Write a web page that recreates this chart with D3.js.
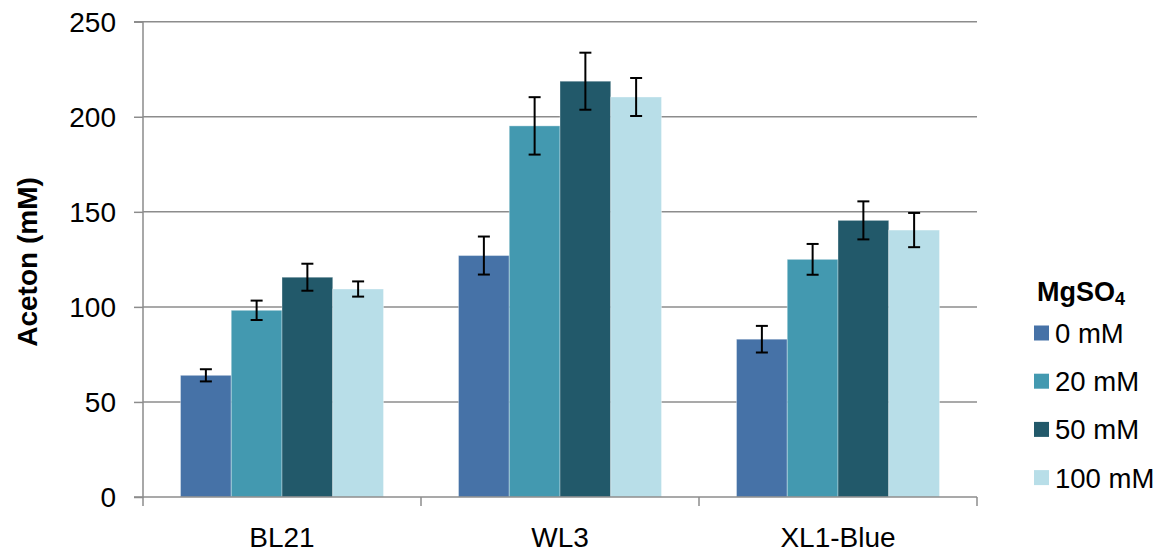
<!DOCTYPE html>
<html><head><meta charset="utf-8">
<script src="https://cdn.jsdelivr.net/npm/d3@7"></script>
<style>body{margin:0;background:#fff}svg{display:block;font-family:"Liberation Sans",Arial,sans-serif}</style>
</head><body><svg id="c" width="1168" height="553"></svg>
<script>
const categories = ["BL21", "WL3", "XL1-Blue"];
const seriesNames = ["0 mM", "20 mM", "50 mM", "100 mM"];
const s0 = [64, 127, 83];
const s20 = [98.2, 195.2, 125];
const s50 = [115.6, 218.7, 145.5];
const s100 = [109.4, 210.4, 140.4];
const e0 = [3.2, 10, 7];
const e20 = [5.1, 15.1, 8.1];
const e50 = [7.1, 15, 10];
const e100 = [4, 10, 9];
const yTicks = [0, 50, 100, 150, 200, 250];
const colors = ["#4672a7", "#4399b0", "#22596a", "#b8dee8"];

const values = [s0, s20, s50, s100];
const errs = [e0, e20, e50, e100];

const svg = d3.select("#c");
const L = 143, R = 977, T = 21.7, B = 497;
const x = d3.scaleBand().domain(categories).range([L, R]).paddingInner(0).paddingOuter(0);
const y = d3.scaleLinear().domain([0, 250]).range([B, T]);
const groupW = 203;
const inner = d3.scaleBand().domain(seriesNames).range([0, x.bandwidth()]).paddingInner(0)
  .paddingOuter((x.bandwidth() - groupW) / 2 / (groupW / 4));

// gridlines
svg.append("g").selectAll("line").data(yTicks.filter(d => d > 0)).join("line")
  .attr("x1", L).attr("x2", R).attr("y1", d => y(d)).attr("y2", d => y(d))
  .attr("stroke", "#8c8c8c").attr("stroke-width", 1.5);

// y axis
const yAxis = d3.axisLeft(y).tickValues(yTicks).tickSize(9).tickPadding(18);
const gy = svg.append("g").attr("transform", `translate(${L},0)`).call(yAxis);
gy.attr("font-size", null).attr("font-family", null);
gy.select(".domain").attr("stroke", "#8c8c8c").attr("stroke-width", 1.5).attr("d", `M-9,${T}H0V${B}H-9`);
gy.selectAll(".tick line").attr("stroke", "#8c8c8c").attr("stroke-width", 1.5);
gy.selectAll(".tick text").attr("font-size", 28).attr("fill", "#000").attr("dy", "0.34em");

// bars
categories.forEach((c, ci) => {
  const g = svg.append("g").attr("transform", `translate(${x(c)},0)`);
  seriesNames.forEach((s, si) => {
    const v = values[si][ci], e = errs[si][ci];
    g.append("rect").attr("x", inner(s)).attr("width", inner.bandwidth())
      .attr("y", y(v)).attr("height", y(0) - y(v))
      .attr("fill", colors[si]).attr("stroke", "rgba(255,255,255,0.35)").attr("stroke-width", 1);
    const cx = inner(s) + inner.bandwidth() / 2;
    g.append("line").attr("x1", cx).attr("x2", cx).attr("y1", y(v + e)).attr("y2", y(v - e)).attr("stroke", "#000").attr("stroke-width", 2);
    [v + e, v - e].forEach(t => g.append("line").attr("x1", cx - 6).attr("x2", cx + 6).attr("y1", y(t)).attr("y2", y(t)).attr("stroke", "#000").attr("stroke-width", 2));
  });
});

// x axis
const gx = svg.append("g").attr("transform", `translate(0,${B})`);
gx.append("line").attr("x1", L).attr("x2", R).attr("y1", 0).attr("y2", 0).attr("stroke", "#8c8c8c").attr("stroke-width", 1.5);
const bounds = categories.map(c => x(c)).concat([R]);
gx.selectAll("line.t").data(bounds).join("line").attr("class", "t")
  .attr("x1", d => d).attr("x2", d => d).attr("y1", 0).attr("y2", 9).attr("stroke", "#8c8c8c").attr("stroke-width", 1.5);
gx.selectAll("text").data(categories).join("text")
  .attr("x", d => x(d) + x.bandwidth() / 2).attr("y", 49.5).attr("text-anchor", "middle")
  .attr("font-size", 28).attr("fill", "#000").text(d => d);

// y title
svg.append("text").attr("transform", `translate(36.5,262) rotate(-90)`).attr("text-anchor", "middle")
  .attr("font-size", 28).attr("font-weight", "bold").text("Aceton (mM)");

// legend
const lt = svg.append("text").attr("x", 1037).attr("y", 300.5).attr("font-size", 27).attr("font-weight", "bold");
lt.append("tspan").text("MgSO");
lt.append("tspan").attr("font-size", 18).attr("dy", "0.25em").text("4");
const lg = svg.append("g");
seriesNames.forEach((s, i) => {
  const cy = 333 + i * 48.2;
  lg.append("rect").attr("x", 1034).attr("y", cy - 7.5).attr("width", 15).attr("height", 15).attr("fill", colors[i]);
  lg.append("text").attr("x", 1055).attr("y", cy + 10).attr("font-size", 27.5).attr("fill", "#000").text(s);
});
</script></body></html>
